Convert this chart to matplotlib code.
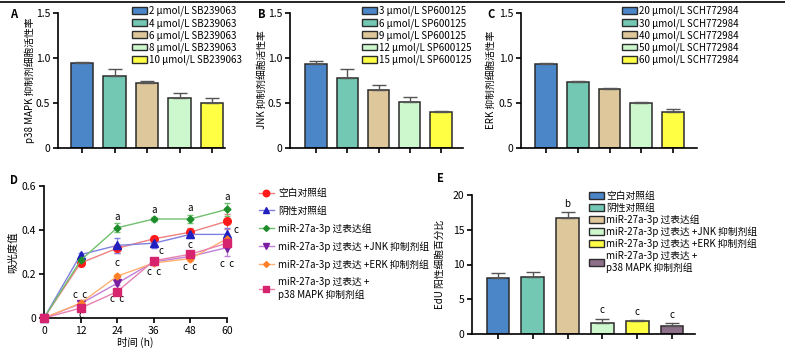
import matplotlib
matplotlib.use("Agg")
import matplotlib.pyplot as plt
from matplotlib.patches import Patch
from matplotlib.lines import Line2D

plt.rcParams['font.family'] = ['Noto Sans CJK SC', 'DejaVu Sans']
plt.rcParams['font.size'] = 7
plt.rcParams['axes.linewidth'] = 1.2

W, H = 785, 359

# ---- data ----
bar_colors = ['#4a86c8', '#72c8b2', '#dec79b', '#cdf8cd', '#ffff44']

a_labels = ['2 μmol/L SB239063', '4 μmol/L SB239063', '6 μmol/L SB239063',
            '8 μmol/L SB239063', '10 μmol/L SB239063']
a_means = [0.94, 0.80, 0.72, 0.56, 0.50]
a_errs = [0.02, 0.08, 0.02, 0.05, 0.06]

b_labels = ['3 μmol/L SP600125', '6 μmol/L SP600125', '9 μmol/L SP600125',
            '12 μmol/L SP600125', '15 μmol/L SP600125']
b_means = [0.93, 0.78, 0.65, 0.51, 0.40]
b_errs = [0.04, 0.10, 0.05, 0.06, 0.01]

c_labels = ['20 μmol/L SCH772984', '30 μmol/L SCH772984', '40 μmol/L SCH772984',
            '50 μmol/L SCH772984', '60 μmol/L SCH772984']
c_means = [0.93, 0.73, 0.66, 0.50, 0.40]
c_errs = [0.02, 0.02, 0.01, 0.01, 0.035]

d_hours = [0, 12, 24, 36, 48, 60]
d_groups = ['空白对照组', '阴性对照组', 'miR-27a-3p 过表达组',
            'miR-27a-3p 过表达 +JNK 抑制剂组', 'miR-27a-3p 过表达 +ERK 抑制剂组',
            'miR-27a-3p 过表达 +\np38 MAPK 抑制剂组']
d_blank = [0, 0.25, 0.317, 0.36, 0.39, 0.44]
d_blank_err = [0, 0.01, 0.02, 0.015, 0.02, 0.035]
d_neg = [0, 0.288, 0.33, 0.34, 0.38, 0.38]
d_neg_err = [0, 0.008, 0.035, 0.02, 0.015, 0.03]
d_mir = [0, 0.262, 0.41, 0.45, 0.45, 0.494]
d_mir_err = [0, 0.008, 0.02, 0.01, 0.02, 0.03]
d_jnk = [0, 0.065, 0.158, 0.255, 0.28, 0.32]
d_jnk_err = [0, 0.005, 0.01, 0.01, 0.01, 0.04]
d_erk = [0, 0.068, 0.19, 0.25, 0.27, 0.36]
d_erk_err = [0, 0.005, 0.01, 0.01, 0.01, 0.02]
d_p38 = [0, 0.045, 0.12, 0.26, 0.29, 0.34]
d_p38_err = [0, 0.005, 0.01, 0.01, 0.01, 0.02]

e_groups = d_groups
e_means = [8.04, 8.18, 16.65, 1.63, 1.82, 1.2]
e_errs = [0.72, 0.67, 0.85, 0.57, 0.18, 0.33]
e_colors = ['#4a86c8', '#72c8b2', '#dec79b', '#cdf8cd', '#ffff44', '#8e6f8a']
e_letters = ['', '', 'b', 'c', 'c', 'c']


def px_axes(fig, left, top, right, bottom):
    return fig.add_axes([left / W, 1 - bottom / H, (right - left) / W, (bottom - top) / H])


def style(ax):
    for s in ['top', 'right']:
        ax.spines[s].set_visible(False)
    ax.tick_params(direction='out', length=3.5, width=1.2, pad=2, labelsize=7.5)


fig = plt.figure(figsize=(W / 100, H / 100), dpi=100)
fig.add_artist(Line2D([0, 1], [1 - 2 / H, 1 - 2 / H], color='black', lw=1.2,
                      transform=fig.transFigure))


def bar_panel(left, right, tick0, step, means, errs, labels, ylabel, letter,
              letter_x, ylabel_x, leg_x):
    ax = px_axes(fig, left, 13, right, 148)
    style(ax)
    x = list(range(len(means)))
    ax.bar(x, means, width=0.68, color=bar_colors, edgecolor='#2b2b2b', lw=1.1,
           yerr=[[0] * len(errs), errs], capsize=5,
           error_kw=dict(ecolor='#555555', elinewidth=1, capthick=1))
    ax.set_ylim(0, 1.5)
    ax.set_yticks([0, 0.5, 1.0, 1.5])
    ax.set_yticklabels(['0', '0.5', '1.0', '1.5'])
    ax.set_xlim((left - tick0) / step, (right - tick0) / step)
    ax.set_xticks(x)
    ax.set_xticklabels([])
    fig.text(letter_x / W, 1 - 15 / H, letter, fontsize=8, fontweight='bold',
             ha='left', va='center')
    fig.text(ylabel_x / W, 1 - 80 / H, ylabel, rotation=90, ha='center',
             va='center', fontsize=7)
    handles = [Patch(facecolor=c, edgecolor='#2b2b2b', lw=1) for c in bar_colors]
    fig.legend(handles, labels, loc='upper left',
               bbox_to_anchor=(leg_x / W, 1 - 6 / H), frameon=False,
               fontsize=7, handlelength=1.5, handleheight=0.7,
               handletextpad=0.25, labelspacing=0.17, borderpad=0,
               borderaxespad=0)
    return ax


bar_panel(58, 225, 82, 32.5, a_means, a_errs, a_labels,
          'p38 MAPK 抑制剂细胞活性率', 'A', 10, 30, 132)
bar_panel(290, 463, 316, 31.25, b_means, b_errs, b_labels,
          'JNK 抑制剂细胞活性率', 'B', 258, 262, 362)
bar_panel(521, 697, 546, 31.75, c_means, c_errs, c_labels,
          'ERK 抑制剂细胞活性率', 'C', 487, 491, 622)

# ---- panel D ----
axd = px_axes(fig, 44, 186, 227, 318)
style(axd)
series = [
    (d_blank, d_blank_err, '#ff1a1a', '#f08080', 'o', 5.5),
    (d_neg, d_neg_err, '#2020c0', '#8080e0', '^', 5.5),
    (d_mir, d_mir_err, '#1e8c2a', '#70c070', 'D', 3.5),
    (d_jnk, d_jnk_err, '#7b1fa2', '#c080d8', 'v', 5.5),
    (d_erk, d_erk_err, '#ff7f27', '#ffb070', 'D', 3.5),
    (d_p38, d_p38_err, '#d6246e', '#e880b0', 's', 5.5),
]
handles = []
for (ys, es, mc, lc, mk, ms), name in zip(series, d_groups):
    axd.errorbar(d_hours, ys, yerr=es, color=lc, lw=1, capsize=2.5, elinewidth=0.9,
                 marker=mk, ms=ms, mfc=mc, mec=mc, clip_on=False, zorder=3)
    handles.append(Line2D([], [], color=lc, lw=1, marker=mk, ms=ms * 0.85, mfc=mc, mec=mc))
axd.set_xlim(0, 60)
axd.set_ylim(0, 0.6)
axd.set_xticks(d_hours)
axd.set_yticks([0, 0.2, 0.4, 0.6])
axd.set_yticklabels(['0', '0.2', '0.4', '0.6'])
axd.set_xlabel('时间 (h)', fontsize=7.5, labelpad=1)
axd.set_ylabel('吸光度值', fontsize=7.5, labelpad=3)
for xh, yv in zip([24, 36, 48, 60], [0.46, 0.49, 0.50, 0.55]):
    axd.text(xh, yv, 'a', ha='center', va='center', fontsize=7)
c_marks = [(12, 0.105, 'c  c'), (12, 0.015, 'c'), (24, 0.25, 'c'), (24, 0.088, 'c  c'),
           (38.5, 0.305, 'c'), (36, 0.21, 'c  c'), (48, 0.33, 'c'), (48, 0.23, 'c  c'),
           (63, 0.40, 'c'), (60, 0.245, 'c  c')]
for xh, yv, t in c_marks:
    axd.text(xh, yv, t, ha='center', va='center', fontsize=7)
fig.text(10 / W, 1 - 180 / H, 'D', fontsize=8, fontweight='bold', ha='left', va='center')
fig.legend(handles, d_groups, loc='upper left', bbox_to_anchor=(259 / W, 1 - 188 / H),
           frameon=False, fontsize=7, handlelength=1.5, handletextpad=0.5,
           labelspacing=0.78, borderpad=0, borderaxespad=0)

# ---- panel E ----
axe = px_axes(fig, 472, 195, 695, 334)
style(axe)
xe = list(range(len(e_means)))
axe.bar(xe, e_means, width=0.66, color=e_colors, edgecolor='#2b2b2b', lw=1.1,
        yerr=[[0] * len(e_errs), e_errs], capsize=5,
        error_kw=dict(ecolor='#555555', elinewidth=1, capthick=1))
for xi, m, e, t in zip(xe, e_means, e_errs, e_letters):
    if t:
        axe.text(xi, m + e + 1.2, t, ha='center', va='center', fontsize=7)
axe.set_xlim((472 - 498) / 34.8, (695 - 498) / 34.8)
axe.set_ylim(0, 20)
axe.set_yticks([0, 5, 10, 15, 20])
axe.set_xticks(xe)
axe.set_xticklabels([])
axe.set_ylabel('EdU 阳性细胞百分比', fontsize=7, labelpad=6)
fig.text(437 / W, 1 - 178 / H, 'E', fontsize=8, fontweight='bold', ha='left', va='center')
e_handles = [Patch(facecolor=c, edgecolor='#2b2b2b', lw=1) for c in e_colors]
fig.legend(e_handles, e_groups, loc='upper left', bbox_to_anchor=(589 / W, 1 - 191 / H),
           frameon=False, fontsize=7, handlelength=1.5, handleheight=0.7,
           handletextpad=0.25, labelspacing=0.17, borderpad=0, borderaxespad=0)

fig.savefig('out.png', dpi=100)
